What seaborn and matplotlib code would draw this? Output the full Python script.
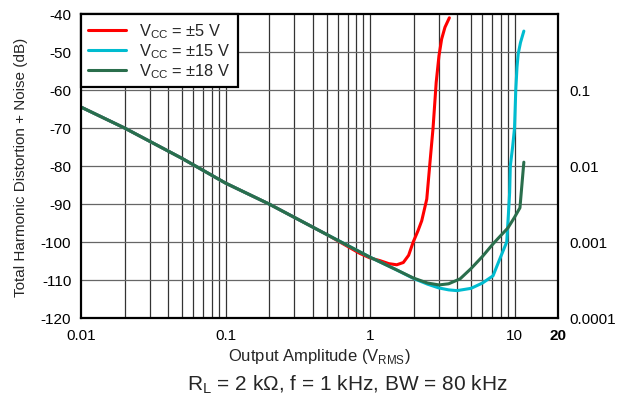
import numpy as np
import pandas as pd
import seaborn as sns
import matplotlib
matplotlib.use("Agg")
import matplotlib.pyplot as plt
from matplotlib.ticker import FixedLocator, NullLocator, NullFormatter

# values (x in Vrms, y in dB)
x_5v = [0.01, 0.02, 0.05, 0.1, 0.2, 0.5, 0.85, 1.0, 1.17, 1.35, 1.53, 1.7, 1.85, 1.99, 2.15, 2.28, 2.47, 2.6, 2.73, 2.87, 3.0, 3.13, 3.3, 3.54]
y_5v = [-64.5, -70, -78, -84.5, -90, -98, -103, -104.2, -104.9, -105.7, -106, -105.4, -103.5, -100, -97, -94.4, -88.7, -79, -70, -58, -51, -46.6, -43.5, -41]

x_15v = [0.01, 0.02, 0.05, 0.1, 0.2, 0.5, 1.0, 1.5, 2.0, 2.5, 3.0, 3.5, 4.0, 5.0, 6.0, 7.1, 7.9, 8.83, 9.06, 9.25, 9.35, 9.7, 10.0, 10.2, 10.4, 10.6, 11.0, 11.6]
y_15v = [-64.5, -70, -78, -84.5, -90, -98, -104, -107.2, -109.6, -111.1, -112.1, -112.6, -112.8, -112.2, -110.8, -108.9, -104.5, -100, -93, -87, -80, -75, -70, -60, -54, -50.5, -47.5, -44.5]

x_18v = [0.01, 0.02, 0.05, 0.1, 0.2, 0.5, 1.0, 1.5, 2.0, 2.5, 3.0, 3.5, 4.2, 5.0, 6.0, 7.1, 7.9, 9.0, 10.0, 10.9, 11.6]
y_18v = [-64.5, -70, -78, -84.5, -90, -98, -104, -107.2, -109.5, -110.8, -111.3, -111, -109.7, -107, -103.8, -100.5, -98.6, -96.3, -93.5, -91, -79]

labels = [r"V$_\mathregular{CC}$ = ±5 V", r"V$_\mathregular{CC}$ = ±15 V", r"V$_\mathregular{CC}$ = ±18 V"]
colors = ["#ff0000", "#00bcd0", "#2a6e4c"]

x_ticks = [0.01, 0.1, 1, 10, 20]
x_ticklabels = ["0.01", "0.1", "1", "10", "20"]
y_ticks = list(range(-120, -30, 10))
pct_ticks = [0.0001, 0.001, 0.01, 0.1]
pct_ticklabels = ["0.0001", "0.001", "0.01", "0.1"]

df = pd.concat([
    pd.DataFrame({"x": x_5v, "y": y_5v, "series": labels[0]}),
    pd.DataFrame({"x": x_15v, "y": y_15v, "series": labels[1]}),
    pd.DataFrame({"x": x_18v, "y": y_18v, "series": labels[2]}),
])

sns.set_style("white")
plt.rcParams['font.family'] = ['Liberation Sans', 'DejaVu Sans']
plt.rcParams['mathtext.fontset'] = 'custom'
plt.rcParams['mathtext.rm'] = 'Liberation Sans'
plt.rcParams['axes.unicode_minus'] = False

fig = plt.figure(figsize=(6.19, 4.02), dpi=100)
ax = fig.add_axes([0.1309, 0.2065, 0.7706, 0.7562])

sns.lineplot(data=df, x="x", y="y", hue="series", palette=colors, linewidth=2.2,
             ax=ax, sort=False, estimator=None)

ax.set_xscale("log")
ax.set_xlim(0.01, 20)
ax.set_ylim(-120, -40)

# grid: every minor decade step vertically, every 10 dB horizontally
vgrid = [m * 10.0 ** e for e in range(-2, 2) for m in range(1, 10) if m * 10.0 ** e < 20]
for v in vgrid[1:]:
    ax.axvline(v, color="#333333", lw=0.9, zorder=1)
for h in y_ticks[1:-1]:
    ax.axhline(h, color="#666666", lw=0.9, zorder=1)

ax.xaxis.set_major_locator(FixedLocator(x_ticks))
ax.xaxis.set_minor_locator(NullLocator())
ax.set_xticklabels(x_ticklabels)
ax.get_xticklabels()[-1].set_fontweight("bold")
ax.set_yticks(y_ticks)
ax.tick_params(axis="both", length=0, labelsize=11, colors="black", pad=7)

for s in ax.spines.values():
    s.set_color("black")
    s.set_linewidth(1.6)
    s.set_visible(True)

ax.set_xlabel(r"Output Amplitude (V$_\mathregular{RMS}$)", fontsize=12, labelpad=3)
ax.set_ylabel("Total Harmonic Distortion + Noise (dB)", fontsize=11, labelpad=9)

ax2 = ax.twinx()
ax2.set_yscale("log")
ax2.set_ylim(0.0001, 1)
ax2.yaxis.set_major_locator(FixedLocator(pct_ticks))
ax2.yaxis.set_minor_locator(NullLocator())
ax2.yaxis.set_minor_formatter(NullFormatter())
ax2.set_yticklabels(pct_ticklabels)
ax2.tick_params(axis="y", length=0, labelsize=11, colors="black", pad=8)
for s in ax2.spines.values():
    s.set_visible(False)

leg = ax.legend(loc="upper left", fontsize=11.8, frameon=True, fancybox=False,
                borderaxespad=0.0, handlelength=2.3, labelspacing=0.08,
                borderpad=0.45, handletextpad=0.8)
leg.get_frame().set_edgecolor("black")
leg.get_frame().set_linewidth(1.6)
leg.get_frame().set_alpha(1)
leg.set_zorder(5)
ax.set_zorder(ax2.get_zorder() + 1)
ax.patch.set_visible(False)

fig.text(0.561, 0.043, r"R$_\mathregular{L}$ = 2 kΩ, f = 1 kHz, BW = 80 kHz",
         ha="center", va="center", fontsize=15)

fig.savefig("out.png", dpi=100)
